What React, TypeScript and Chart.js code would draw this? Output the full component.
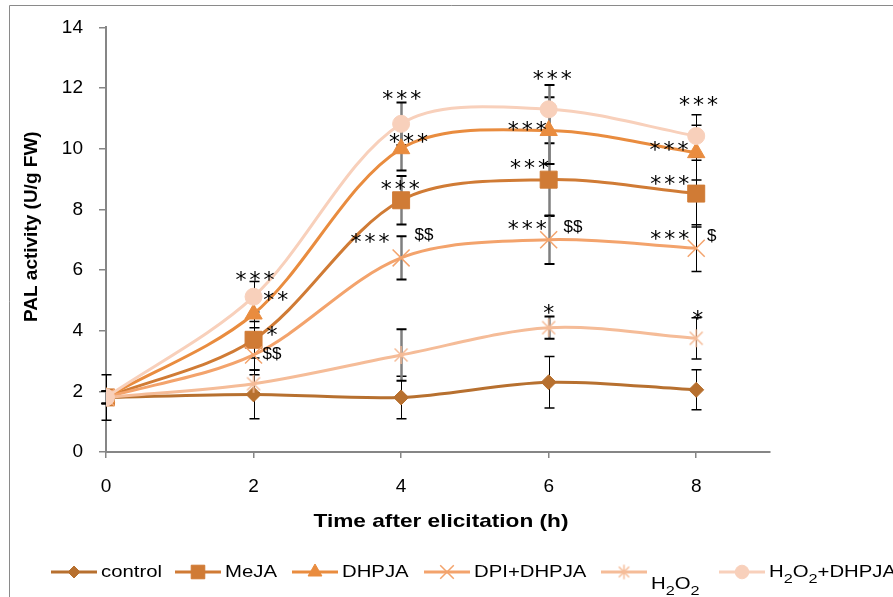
import React, { useEffect, useRef } from 'react';
import { Chart, registerables } from 'chart.js';
import { drawPoint } from 'chart.js/helpers';

Chart.register(...registerables);

// ---------- data ----------
const TIMES = [0, 2, 4, 6, 8];
const X_TICKS = [0, 2, 4, 6, 8];
const Y_TICKS = [0, 2, 4, 6, 8, 10, 12, 14];

const SERIES_NAMES = ['control', 'MeJA', 'DHPJA', 'DPI+DHPJA', 'H₂O₂', 'H₂O₂+DHPJA'];

const CONTROL = [1.8, 1.9, 1.8, 2.3, 2.05];
const CONTROL_ERR = [0.75, 0.8, 0.7, 0.85, 0.66];
const MEJA = [1.8, 3.7, 8.3, 8.98, 8.52];
const MEJA_ERR = [0.2, 0.6, 0.8, 1.2, 1.1];
const DHPJA = [1.8, 4.55, 10.0, 10.6, 9.87];
const DHPJA_ERR = [0.2, 0.45, 0.72, 1.1, 0.9];
const DPI_DHPJA = [1.8, 3.2, 6.4, 7.0, 6.72];
const DPI_DHPJA_ERR = [0.2, 0.5, 0.71, 0.8, 0.77];
const H2O2 = [1.8, 2.25, 3.2, 4.1, 3.75];
const H2O2_ERR = [0.2, 0.3, 0.85, 0.37, 0.68];
const H2O2_DHPJA = [1.8, 5.12, 10.82, 11.3, 10.42];
const H2O2_DHPJA_ERR = [0.2, 0.5, 0.7, 0.8, 0.7];

// significance marks: [x (h), y (U/g FW), text]
const ANNOTATIONS: [number, number, string][] = [
  [2.02, 5.79, '***'],
  [2.3, 5.14, '**'],
  [2.25, 4.0, '*'],
  [2.25, 3.24, '$$'],
  [4.01, 11.77, '***'],
  [4.1, 10.34, '***'],
  [3.99, 8.8, '***'],
  [3.58, 7.06, '***'],
  [4.31, 7.15, '$$'],
  [6.05, 12.44, '***'],
  [5.71, 10.75, '***'],
  [5.74, 9.49, '***'],
  [5.71, 7.48, '***'],
  [6.33, 7.41, '$$'],
  [6.0, 4.72, '*'],
  [8.03, 11.56, '***'],
  [7.63, 10.09, '***'],
  [7.64, 8.97, '***'],
  [7.64, 7.14, '***'],
  [8.21, 7.11, '$'],
  [8.02, 4.51, '*'],
];

const X_TITLE = 'Time after elicitation (h)';
const Y_TITLE = 'PAL activity (U/g FW)';

// ---------- styles ----------
const COLORS = ['#B7702F', '#D07B35', '#E98C3F', '#F3A36C', '#F5BC98', '#F8D0BB'];
const POINT_STYLES = ['rectRot', 'rect', 'triangle', 'crossRot', 'asterisk', 'circle'];
const POINT_RADII = [7.5, 12, 10, 12, 9, 8.5];
const LEGEND_X = [51, 175, 292, 424, 601, 719];
const LEGEND_TEXT_DY = [0, 0, 0, 0, 12, 0];
const FONT = "'Liberation Sans', Arial, sans-serif";

const VALUES = [CONTROL, MEJA, DHPJA, DPI_DHPJA, H2O2, H2O2_DHPJA];
const ERRORS = [CONTROL_ERR, MEJA_ERR, DHPJA_ERR, DPI_DHPJA_ERR, H2O2_ERR, H2O2_DHPJA_ERR];

function makeAsterisk(color: string, r: number) {
  const c = document.createElement('canvas');
  const s = Math.ceil(r * 2 + 2);
  c.width = s;
  c.height = s;
  const g = c.getContext('2d')!;
  const m = s / 2;
  const d = r * 0.72;
  g.strokeStyle = color;
  g.lineWidth = 1.5;
  g.beginPath();
  g.moveTo(m - d, m - d); g.lineTo(m + d, m + d);
  g.moveTo(m + d, m - d); g.lineTo(m - d, m + d);
  g.moveTo(m, m - r); g.lineTo(m, m + r);
  g.stroke();
  return c;
}

function drawRich(ctx: CanvasRenderingContext2D, label: string, x: number, y: number, size: number, sx: number) {
  // splits on '₂' to draw real subscripts
  ctx.save();
  ctx.translate(x, y);
  ctx.scale(sx, 1);
  ctx.textAlign = 'left';
  ctx.textBaseline = 'alphabetic';
  let cx = 0;
  let run = '';
  const flush = () => {
    if (!run) return;
    ctx.font = `${size}px ${FONT}`;
    ctx.fillText(run, cx, 0);
    cx += ctx.measureText(run).width;
    run = '';
  };
  for (const ch of label) {
    if (ch === '₂') {
      flush();
      ctx.font = `${size * 0.8}px ${FONT}`;
      ctx.fillText('2', cx, size * 0.36);
      cx += ctx.measureText('2').width;
    } else run += ch;
  }
  flush();
  ctx.restore();
}

export default function App() {
  const ref = useRef<HTMLCanvasElement>(null);

  useEffect(() => {
    document.body.style.margin = '0';
    const canvas = ref.current!;
    const styles: any[] = POINT_STYLES.map((p, i) =>
      p === 'asterisk' ? makeAsterisk(COLORS[i], POINT_RADII[i]) : p
    );
    const legendStyles: any[] = POINT_STYLES.map((p, i) =>
      p === 'asterisk' ? makeAsterisk(COLORS[i], POINT_RADII[i] * 0.8) : p
    );

    const datasets = SERIES_NAMES.map((name, i) => ({
      label: name,
      data: TIMES.map((t, j) => ({ x: t, y: VALUES[i][j] })),
      borderColor: COLORS[i],
      backgroundColor: COLORS[i],
      borderWidth: 3,
      pointStyle: styles[i],
      pointRadius: POINT_RADII[i],
      pointBackgroundColor: COLORS[i],
      pointBorderColor: COLORS[i],
      pointBorderWidth: POINT_STYLES[i] === 'crossRot' ? 1.5 : 1,
      tension: 0.32,
      fill: false,
      order: SERIES_NAMES.length - 1 - i,
    }));

    const extras = {
      id: 'extras',
      beforeDatasetsDraw(chart: any) {
        const { ctx, scales: { x, y } } = chart;
        ctx.save();
        VALUES.forEach((vals, si) => {
          TIMES.forEach((t, j) => {
            const e = ERRORS[si][j];
            if (!e) return;
            const px = Math.round(x.getPixelForValue(t)) + 0.5;
            const top = y.getPixelForValue(vals[j] + e);
            const bot = y.getPixelForValue(vals[j] - e);
            const grey = (t === 4 || t === 6) && si > 0;
            ctx.strokeStyle = grey ? '#7f7f7f' : '#000';
            ctx.lineWidth = grey ? 2.5 : 1;
            ctx.beginPath();
            ctx.moveTo(px, top); ctx.lineTo(px, bot);
            ctx.stroke();
            ctx.lineWidth = grey ? 2 : 1.5;
            ctx.strokeStyle = '#000';
            ctx.beginPath();
            ctx.moveTo(px - 5, top); ctx.lineTo(px + 5, top);
            ctx.moveTo(px - 5, bot); ctx.lineTo(px + 5, bot);
            ctx.stroke();
          });
        });
        ctx.restore();
      },
      afterDatasetsDraw(chart: any) {
        const { ctx, scales: { x, y } } = chart;
        ctx.save();
        ctx.fillStyle = '#000';
        ctx.textAlign = 'center';
        ctx.textBaseline = 'alphabetic';
        ANNOTATIONS.forEach(([ax, ay, text]) => {
          const px = x.getPixelForValue(ax);
          const py = y.getPixelForValue(ay);
          if (text.includes('*')) {
            ctx.font = "22px 'DejaVu Sans'";
            (ctx as any).letterSpacing = '3px';
          } else {
            ctx.font = `17px ${FONT}`;
            (ctx as any).letterSpacing = '0px';
          }
          const m = ctx.measureText(text);
          const off = (m.actualBoundingBoxAscent - m.actualBoundingBoxDescent) / 2;
          ctx.fillText(text, px + (text.includes('*') ? 1.5 : 0), py + off);
        });
        (ctx as any).letterSpacing = '0px';
        ctx.restore();
      },
      afterDraw(chart: any) {
        const { ctx, chartArea } = chart;
        ctx.save();
        // outer frame
        ctx.strokeStyle = '#8a8a8a';
        ctx.lineWidth = 1;
        ctx.beginPath();
        ctx.moveTo(9.5, 600); ctx.lineTo(9.5, 5.5); ctx.lineTo(900, 5.5);
        ctx.stroke();

        ctx.fillStyle = '#000';
        // x title
        ctx.font = `bold 17.7px ${FONT}`;
        const sx = 1.28;
        const w = ctx.measureText(X_TITLE).width * sx;
        const cx = (chartArea.left + chartArea.right) / 2 + 3;
        ctx.save();
        ctx.translate(cx - w / 2, 527);
        ctx.scale(sx, 1);
        ctx.textAlign = 'left';
        ctx.textBaseline = 'alphabetic';
        ctx.fillText(X_TITLE, 0, 0);
        ctx.restore();

        // y title
        ctx.save();
        ctx.translate(32, (chartArea.top + chartArea.bottom) / 2 - 13);
        ctx.rotate(-Math.PI / 2);
        ctx.font = `bold 19px ${FONT}`;
        ctx.textAlign = 'center';
        ctx.textBaseline = 'middle';
        ctx.fillText(Y_TITLE, 0, 0);
        ctx.restore();

        // legend
        const ly = 572;
        SERIES_NAMES.forEach((name, i) => {
          const x0 = LEGEND_X[i];
          ctx.strokeStyle = COLORS[i];
          ctx.lineWidth = 3;
          ctx.beginPath();
          ctx.moveTo(x0, ly); ctx.lineTo(x0 + 46, ly);
          ctx.stroke();
          ctx.fillStyle = COLORS[i];
          ctx.strokeStyle = COLORS[i];
          ctx.lineWidth = POINT_STYLES[i] === 'crossRot' ? 1.5 : 1;
          drawPoint(ctx, { pointStyle: legendStyles[i], radius: POINT_RADII[i] * 0.8, rotation: 0, borderWidth: ctx.lineWidth } as any, x0 + 23, ly);
          ctx.fillStyle = '#000';
          drawRich(ctx, name, x0 + 50, ly + 5 + LEGEND_TEXT_DY[i], 16.4, 1.24);
        });
        ctx.restore();
      },
    };

    const chart = new Chart(canvas, {
      type: 'line',
      data: { datasets },
      options: {
        responsive: false,
        animation: false,
        events: [],
        layout: { padding: { left: 0, right: 123, top: 24, bottom: 0 } },
        plugins: { legend: { display: false }, tooltip: { enabled: false } },
        scales: {
          x: {
            type: 'linear',
            min: 0,
            max: 9,
            afterBuildTicks: (s: any) => { s.ticks = X_TICKS.map((v) => ({ value: v })); },
            afterFit: (s: any) => { s.height = 145; },
            grid: { display: true, drawOnChartArea: false, drawTicks: true, tickLength: 6, color: '#868686', lineWidth: 1.5 },
            border: { display: true, color: '#868686', width: 2 },
            ticks: { font: { family: FONT, size: 19 }, color: '#000', padding: 17, maxRotation: 0, autoSkip: false },
          },
          y: {
            type: 'linear',
            min: 0,
            max: 14,
            afterBuildTicks: (s: any) => { s.ticks = Y_TICKS.map((v) => ({ value: v })); },
            afterFit: (s: any) => { s.width = 106; },
            grid: { display: true, drawOnChartArea: false, drawTicks: true, tickLength: 7, color: '#868686', lineWidth: 1.5 },
            border: { display: true, color: '#868686', width: 2 },
            ticks: { font: { family: FONT, size: 19 }, color: '#000', padding: 16, autoSkip: false },
          },
        },
      },
      plugins: [extras],
    } as any);

    return () => chart.destroy();
  }, []);

  return <canvas ref={ref} width={893} height={597} style={{ display: 'block' }} />;
}
